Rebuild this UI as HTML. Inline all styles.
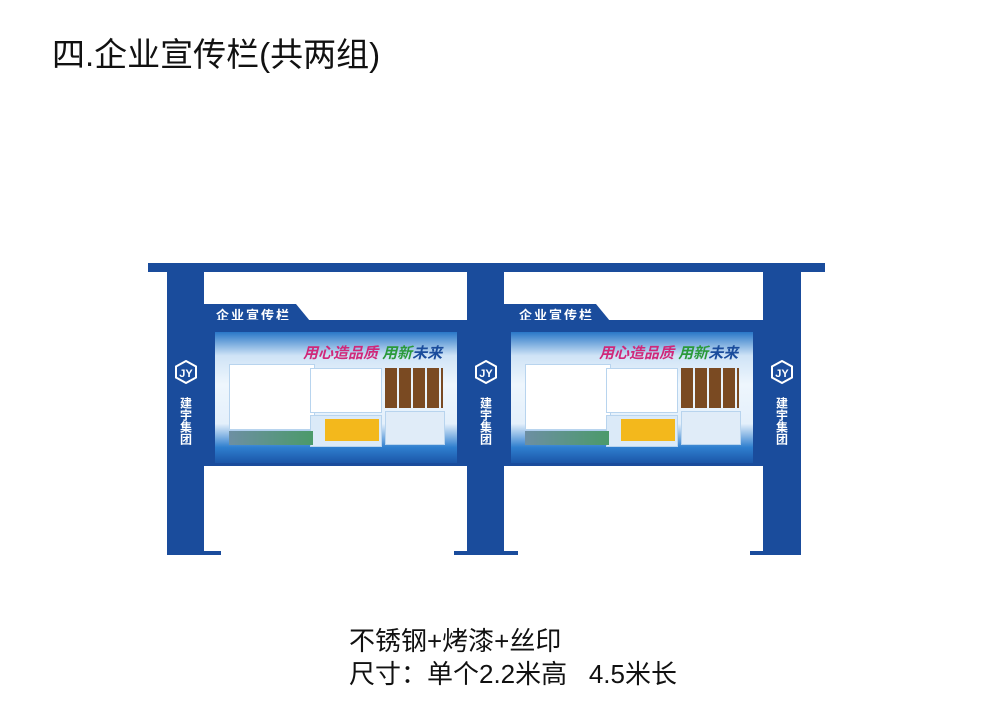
<!DOCTYPE html>
<html><head><meta charset="utf-8"><style>
body{margin:0;width:1000px;height:707px;background:#fff;position:relative;overflow:hidden;font-family:"Liberation Sans","Noto Sans CJK SC",sans-serif}
.a{position:absolute}
.b{background:#1a4c9c}
.title{left:52px;top:28px;font-size:33px;color:#111;letter-spacing:0}
.cap{left:349px;font-size:26px;color:#111}
.logo{color:#fff;font-weight:bold;font-size:12px;writing-mode:vertical-rl;text-align:center;white-space:nowrap}
.img{overflow:hidden;background:linear-gradient(180deg,#2a77c8 0%,#cfe3f6 18%,#eef6fd 40%,#e4f0fb 70%,#2f7fcf 88%,#1b56a8 100%)}
.box{position:absolute;background:#fff;border:1px solid #b8d4ee}
</style></head><body>
<div class="a title">四.企业宣传栏(共两组)</div>
<div class="a cap" style="top:621px">不锈钢+烤漆+丝印</div>
<div class="a cap" style="top:654px">尺寸：单个2.2米高&nbsp;&nbsp;&nbsp;4.5米长</div>

<div class="a b" style="left:148px;top:263px;width:677px;height:9px"></div>
<div class="a b" style="left:167px;top:272px;width:37px;height:283px"></div>
<div class="a b" style="left:167px;top:551px;width:54px;height:4px"></div>
<div class="a b" style="left:467px;top:272px;width:37px;height:283px"></div>
<div class="a b" style="left:454px;top:551px;width:64px;height:4px"></div>
<div class="a b" style="left:763px;top:272px;width:38px;height:283px"></div>
<div class="a b" style="left:750px;top:551px;width:51px;height:4px"></div>

<div class="a" style="left:171px;top:360px;width:30px;text-align:center">
<svg width="24" height="24" viewBox="0 0 24 24"><polygon points="12,1 22,6.5 22,17.5 12,23 2,17.5 2,6.5" fill="none" stroke="#fff" stroke-width="2"/><text x="12" y="17" font-size="11" font-weight="bold" fill="#fff" text-anchor="middle" font-family="Liberation Sans">JY</text></svg>
<div class="logo" style="margin:2px auto 0;height:60px">建宇集团</div></div>
<div class="a" style="left:471px;top:360px;width:30px;text-align:center">
<svg width="24" height="24" viewBox="0 0 24 24"><polygon points="12,1 22,6.5 22,17.5 12,23 2,17.5 2,6.5" fill="none" stroke="#fff" stroke-width="2"/><text x="12" y="17" font-size="11" font-weight="bold" fill="#fff" text-anchor="middle" font-family="Liberation Sans">JY</text></svg>
<div class="logo" style="margin:2px auto 0;height:60px">建宇集团</div></div>
<div class="a" style="left:767px;top:360px;width:30px;text-align:center">
<svg width="24" height="24" viewBox="0 0 24 24"><polygon points="12,1 22,6.5 22,17.5 12,23 2,17.5 2,6.5" fill="none" stroke="#fff" stroke-width="2"/><text x="12" y="17" font-size="11" font-weight="bold" fill="#fff" text-anchor="middle" font-family="Liberation Sans">JY</text></svg>
<div class="logo" style="margin:2px auto 0;height:60px">建宇集团</div></div>

<svg class="a" style="left:204px;top:304px" width="110" height="17"><polygon points="0,0 92,0 106,17 0,17" fill="#1a4c9c"/></svg>
<div class="a" style="left:216px;top:305px;color:#fff;font-weight:bold;font-size:13px;letter-spacing:2px">企业宣传栏</div>
<div class="a b" style="left:204px;top:320px;width:263px;height:146px"></div>
<div class="a img" style="left:215px;top:332px;width:242px;height:131px">
 <div class="a" style="left:88px;top:10px;font-size:15px;font-weight:bold;font-style:italic;color:#d0287a">用心造品质 <span style="color:#2a9a3a">用新</span><span style="color:#1a4c9c">未来</span></div>
 <div class="box" style="left:14px;top:32px;width:84px;height:64px"></div>
 <div class="box" style="left:95px;top:36px;width:70px;height:43px"></div>
 <div class="box" style="left:95px;top:83px;width:70px;height:30px;background:#dbeaf8"></div>
 <div class="a" style="left:110px;top:87px;width:54px;height:22px;background:#f3b81c"></div>
 <div class="a" style="left:170px;top:36px;width:58px;height:40px;background:repeating-linear-gradient(90deg,#7a4a22 0 12px,transparent 12px 14px)"></div>
 <div class="box" style="left:170px;top:79px;width:58px;height:32px;background:#e0ecf8"></div>
 <div class="a" style="left:14px;top:99px;width:84px;height:14px;background:linear-gradient(90deg,#6d8fa3,#4b9a6a)"></div>
</div>

<svg class="a" style="left:504px;top:304px" width="110" height="17"><polygon points="0,0 92,0 106,17 0,17" fill="#1a4c9c"/></svg>
<div class="a" style="left:519px;top:305px;color:#fff;font-weight:bold;font-size:13px;letter-spacing:2px">企业宣传栏</div>
<div class="a b" style="left:504px;top:320px;width:259px;height:146px"></div>
<div class="a img" style="left:511px;top:332px;width:242px;height:131px">
 <div class="a" style="left:88px;top:10px;font-size:15px;font-weight:bold;font-style:italic;color:#d0287a">用心造品质 <span style="color:#2a9a3a">用新</span><span style="color:#1a4c9c">未来</span></div>
 <div class="box" style="left:14px;top:32px;width:84px;height:64px"></div>
 <div class="box" style="left:95px;top:36px;width:70px;height:43px"></div>
 <div class="box" style="left:95px;top:83px;width:70px;height:30px;background:#dbeaf8"></div>
 <div class="a" style="left:110px;top:87px;width:54px;height:22px;background:#f3b81c"></div>
 <div class="a" style="left:170px;top:36px;width:58px;height:40px;background:repeating-linear-gradient(90deg,#7a4a22 0 12px,transparent 12px 14px)"></div>
 <div class="box" style="left:170px;top:79px;width:58px;height:32px;background:#e0ecf8"></div>
 <div class="a" style="left:14px;top:99px;width:84px;height:14px;background:linear-gradient(90deg,#6d8fa3,#4b9a6a)"></div>
</div>
</body></html>
